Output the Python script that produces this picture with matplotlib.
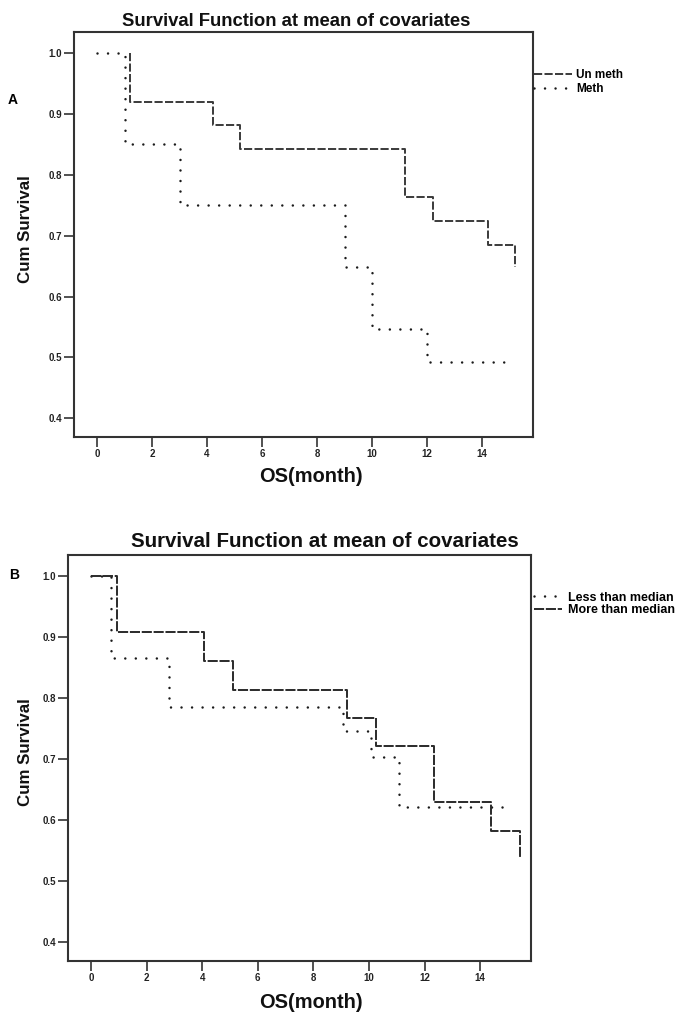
import numpy as np
import matplotlib
matplotlib.use('Agg')
import matplotlib.pyplot as plt

plt.rcParams['font.family'] = ['Liberation Sans', 'DejaVu Sans']

W, H = 687, 1015

# Panel A: methylation status (event times in months, survival after each event)
unmeth_t = [1.2, 4.2, 5.2, 11.2, 12.2, 14.2, 15.2]
unmeth_s = [0.920, 0.882, 0.843, 0.764, 0.725, 0.685, 0.648]
meth_t = [1.0, 3.0, 9.0, 10.0, 12.0]
meth_s = [0.851, 0.751, 0.648, 0.546, 0.492]
meth_end = 14.8

# Panel B: less / more than median
less_t = [0.72, 2.8, 9.06, 10.07, 11.08]
less_s = [0.866, 0.785, 0.746, 0.703, 0.621]
less_end = 14.96
more_t = [0.94, 4.06, 5.1, 9.2, 10.25, 12.34, 14.4, 15.43]
more_s = [0.908, 0.861, 0.813, 0.767, 0.721, 0.630, 0.582, 0.538]

xticks = np.arange(0, 15, 2)
yticks = [0.4, 0.5, 0.6, 0.7, 0.8, 0.9, 1.0]
title = 'Survival Function at mean of covariates'


def km_steps(times, surv, start=0.0, end=None):
    x, y, prev = [start], [1.0], 1.0
    for t, s in zip(times, surv):
        x += [t, t]
        y += [prev, s]
        prev = s
    if end is not None:
        x.append(end)
        y.append(prev)
    return x, y


def fx(px):
    return px / W


def fy(py):
    return 1 - py / H


def style_axes(ax, xlim):
    ax.set_xlim(*xlim)
    ax.set_ylim(0.369, 1.035)
    ax.set_xticks(xticks)
    ax.set_yticks(yticks)
    ax.set_yticklabels(['%.1f' % v for v in yticks])
    ax.tick_params(direction='out', length=7, width=1.2, color='#333333',
                   labelsize=7, pad=1.5)
    for lab in ax.get_xticklabels() + ax.get_yticklabels():
        lab.set_fontweight('bold')
        lab.set_color('#222222')
    for sp in ax.spines.values():
        sp.set_linewidth(1.5)
        sp.set_color('#333333')


fig = plt.figure(figsize=(W / 100, H / 100), dpi=100)

dotted = dict(color='#1a1a1a', lw=1.8, linestyle=(0, (0.01, 4.2)),
              dash_capstyle='round')

# ---- panel A
axA = fig.add_axes([fx(74), fy(437), (533 - 74) / W, (437 - 32) / H])
x, y = km_steps(meth_t, meth_s, 0.0, meth_end)
axA.plot(x, y, label='Meth', zorder=2, **dotted)
x, y = km_steps(unmeth_t, unmeth_s, start=unmeth_t[0])
axA.plot(x, y, color='#3a3a3a', lw=1.4, linestyle=(0, (4.2, 1.2)),
         label='Un meth', zorder=3)
style_axes(axA, (-0.84, 15.85))
h, l = axA.get_legend_handles_labels()
leg = axA.legend(h[::-1], l[::-1], loc='center left',
                 bbox_to_anchor=(fx(534), fy(82)), bbox_transform=fig.transFigure,
                 frameon=False, borderpad=0, borderaxespad=0, fontsize=8.5,
                 handlelength=3.2, handletextpad=0.35, labelspacing=0.15)
for t in leg.get_texts():
    t.set_fontweight('bold')

fig.text(fx(296), fy(26), title, ha='center', va='baseline',
         fontsize=13.3, fontweight='bold', color='#111111')
fig.text(fx(26), fy(229), 'Cum Survival', rotation=90, ha='center', va='center',
         fontsize=12.2, fontweight='bold', color='#111111')
fig.text(fx(311), fy(477), 'OS(month)', ha='center', va='center',
         fontsize=14.4, fontweight='bold', color='#111111')
fig.text(fx(13), fy(100), 'A', ha='center', va='center',
         fontsize=10, fontweight='bold')

# ---- panel B
axB = fig.add_axes([fx(68), fy(961), (531 - 68) / W, (961 - 555) / H])
x, y = km_steps(less_t, less_s, 0.0, less_end)
axB.plot(x, y, label='Less than median', zorder=2, **dotted)
x, y = km_steps(more_t, more_s, 0.0)
axB.plot(x, y, color='#2a2a2a', lw=1.4, linestyle=(0, (5.2, 0.9)),
         label='More than median', zorder=3)
style_axes(axB, (-0.83, 15.83))
leg = axB.legend(loc='center left',
                 bbox_to_anchor=(fx(534), fy(604)), bbox_transform=fig.transFigure,
                 frameon=False, borderpad=0, borderaxespad=0, fontsize=9,
                 handlelength=2.2, handletextpad=0.5, labelspacing=0.05)
for t in leg.get_texts():
    t.set_fontweight('bold')

fig.text(fx(325), fy(547), title, ha='center', va='baseline',
         fontsize=14.8, fontweight='bold', color='#111111')
fig.text(fx(26), fy(752), 'Cum Survival', rotation=90, ha='center', va='center',
         fontsize=12.2, fontweight='bold', color='#111111')
fig.text(fx(311), fy(1002), 'OS(month)', ha='center', va='center',
         fontsize=14.4, fontweight='bold', color='#111111')
fig.text(fx(14), fy(575), 'B', ha='center', va='center',
         fontsize=10, fontweight='bold')

fig.savefig('out.png', dpi=100)
